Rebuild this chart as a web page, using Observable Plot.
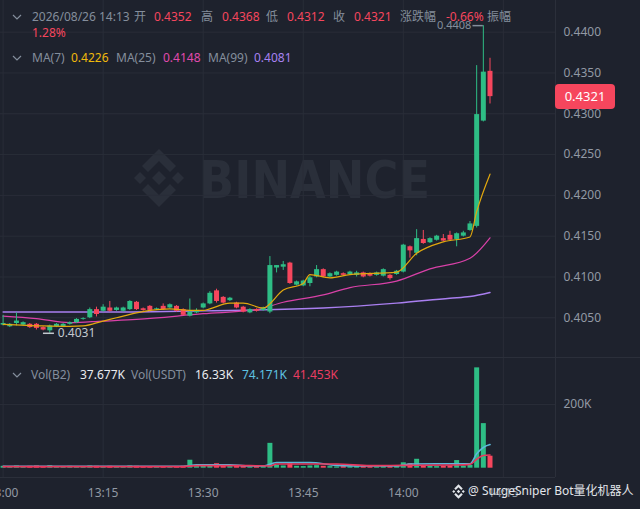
<!DOCTYPE html>
<html><head><meta charset="utf-8">
<script src="https://cdn.jsdelivr.net/npm/d3@7"></script>
<script src="https://cdn.jsdelivr.net/npm/@observablehq/plot@0.6"></script>
<style>
html,body{margin:0;padding:0;background:#1e222d;}
#wrap{position:relative;width:640px;height:509px;overflow:hidden;background:#1e222d;font-family:"Noto Sans","Noto Sans CJK SC",sans-serif;font-size:12px;color:#848e9c;}
.abs{position:absolute;white-space:nowrap;line-height:16px;}
#wrap > svg{display:block}
</style></head><body><div id="wrap"></div>
<script>
// ---------- data (1-minute candles starting 13:00) ----------
const startTime = "13:00";
const open  = [0.4041,0.4039,0.4043,0.4041,0.4042,0.4042,0.4038,0.4034,0.4039,0.4039,0.4042,0.4044,0.4048,0.4050,0.4060,0.4058,0.4062,0.4059,0.4058,0.4060,
               0.4069,0.4061,0.4064,0.4060,0.4064,0.4062,0.4064,0.4060,0.4052,0.4056,0.4062,0.4067,0.4083,0.4075,0.4071,0.4068,0.4063,0.4056,0.4060,0.4059,
               0.4057,0.4111,0.4112,0.4117,0.4090,0.4089,0.4092,0.4100,0.4109,0.4100,0.4102,0.4104,0.4103,0.4102,0.4105,0.4104,0.4102,0.4101,0.4102,0.4103,
               0.4106,0.4137,0.4129,0.4146,0.4142,0.4145,0.4147,0.4151,0.4146,0.4150,0.4157,0.4162,0.4291,0.4352];
const high  = [0.4053,0.4043,0.4056,0.4045,0.4043,0.4043,0.4039,0.4041,0.4043,0.4043,0.4045,0.4049,0.4050,0.4062,0.4063,0.4066,0.4070,0.4063,0.4063,0.4071,
               0.4070,0.4062,0.4065,0.4062,0.4067,0.4067,0.4065,0.4061,0.4073,0.4061,0.4068,0.4082,0.4085,0.4076,0.4075,0.4069,0.4064,0.4061,0.4061,0.4063,
               0.4125,0.4114,0.4119,0.4118,0.4095,0.4096,0.4101,0.4114,0.4110,0.4105,0.4107,0.4105,0.4107,0.4107,0.4106,0.4105,0.4106,0.4110,0.4103,0.4108,
               0.4140,0.4138,0.4158,0.4157,0.4148,0.4151,0.4152,0.4156,0.4154,0.4156,0.4168,0.4359,0.4408,0.4368];
const low   = [0.4040,0.4038,0.4040,0.4040,0.4037,0.4035,0.4034,0.4031,0.4038,0.4038,0.4041,0.4043,0.4047,0.4049,0.4051,0.4057,0.4057,0.4058,0.4057,0.4059,
               0.4059,0.4058,0.4057,0.4059,0.4059,0.4061,0.4057,0.4052,0.4051,0.4055,0.4061,0.4066,0.4068,0.4067,0.4070,0.4061,0.4056,0.4055,0.4057,0.4058,
               0.4055,0.4105,0.4108,0.4091,0.4089,0.4088,0.4088,0.4099,0.4099,0.4099,0.4101,0.4101,0.4102,0.4100,0.4099,0.4100,0.4101,0.4100,0.4096,0.4102,
               0.4105,0.4123,0.4126,0.4140,0.4141,0.4144,0.4143,0.4144,0.4137,0.4149,0.4156,0.4160,0.4290,0.4312];
const close = [0.4043,0.4042,0.4046,0.4044,0.4038,0.4037,0.4035,0.4040,0.4042,0.4042,0.4044,0.4048,0.4049,0.4060,0.4054,0.4063,0.4058,0.4062,0.4062,0.4070,
               0.4060,0.4059,0.4059,0.4061,0.4060,0.4066,0.4058,0.4053,0.4057,0.4059,0.4067,0.4080,0.4070,0.4068,0.4074,0.4062,0.4057,0.4060,0.4058,0.4062,
               0.4114,0.4114,0.4115,0.4092,0.4094,0.4095,0.4099,0.4109,0.4100,0.4104,0.4106,0.4102,0.4106,0.4105,0.4100,0.4101,0.4105,0.4109,0.4098,0.4107,
               0.4139,0.4132,0.4147,0.4141,0.4147,0.4150,0.4144,0.4145,0.4153,0.4154,0.4165,0.4299,0.4351,0.4321];
const volumeK = [6,5,7,4,6,7,5,8,5,4,6,5,4,7,6,5,6,4,5,7,
                 6,4,5,3,5,4,5,6,25,5,6,7,14,6,5,6,7,4,5,6,
                 78,9,7,14,6,5,7,8,6,5,4,5,4,5,6,5,4,6,5,6,
                 17,14,28,7,6,5,6,7,24,6,9,315,140,37.677];
// moving averages: [minute offset, value]
const ma7Pts  = [[0,0.4042],[6,0.4040],[10,0.40395],[12,0.4040],[15,0.4046],[17,0.4050],[20,0.4056],[22,0.4059],[25,0.4061],[28,0.4059],[30,0.4059],[31,0.4061],[34,0.4068],[36,0.4068],[39,0.4062],[42,0.4084],[45,0.4092],[46,0.4103],[49,0.4099],[52,0.4103],[59,0.4106],[62,0.4129],[66,0.4143],[70,0.4149],[71,0.4180],[73,0.4226]];
const ma25Pts = [[0,0.4052],[5,0.4049],[10,0.4044],[15,0.4046],[20,0.4048],[30,0.4055],[38,0.4060],[42,0.4069],[48,0.4078],[52,0.4087],[59,0.4095],[64,0.4110],[70,0.4123],[73,0.4148]];
const ma99Pts = [[0,0.4057],[15,0.4057],[30,0.40585],[48,0.4062],[59,0.4068],[67,0.4074],[70,0.4076],[73,0.4081]];
const volMa5Pts  = [[0,6],[27,6],[29,11],[34,11],[37,7],[39,7],[41,18],[46,18],[50,9],[54,7],[59,7],[61,13],[68,14],[70,14],[71,45],[72,65],[73,74.171]];
const volMa10Pts = [[0,5],[27,5],[29,8],[37,8],[40,7],[41,13],[50,13],[55,8],[60,9],[68,10],[70,12],[71,28],[72,40],[73,41.453]];
const priceTicks = [0.4050,0.4100,0.4150,0.4200,0.4250,0.4300,0.4350,0.4400];
const volTicks = [200];
const timeTickMinutes = [0,15,30,45,60,75];
const timeTickLabels = ["13:00","13:15","13:30","13:45","14:00","14:15"];

// ---------- styling ----------
const AXIS="#9299a4", GRID="#292d38", GREEN="#2ebd85", RED="#f6465d";
const FONT='"Noto Sans","Noto Sans CJK SC",sans-serif';
const xDomain=[-0.39,82.82];

const candles = open.map((o,i)=>({m:i,o,h:high[i],l:low[i],c:close[i],v:volumeK[i]}));
const col = d => d.c>=d.o ? GREEN : RED;
const pts = a => a.map(([m,v])=>({m,v}));
const hiPt = candles.reduce((a,b)=>b.h>a.h?b:a);
const loPt = candles.reduce((a,b)=>b.l<a.l?b:a);
const last = candles[candles.length-1];

const wrap=document.getElementById("wrap");
const LOGO=`<polygon points="0,-7 7,0 0,7 -7,0"/><polygon points="-19,-6 -13,0 -19,6 -25,0"/><polygon points="19,-6 25,0 19,6 13,0"/><polygon points="0,-29 17,-12 11,-6 0,-17 -11,-6 -17,-12"/><polygon points="0,29 17,12 11,6 0,17 -11,6 -17,12"/>`;

// watermark
const wm=document.createElementNS("http://www.w3.org/2000/svg","svg");
wm.setAttribute("width","640");wm.setAttribute("height","358");
wm.setAttribute("style","position:absolute;left:0;top:0");
wm.innerHTML=`<g transform="translate(159,178)" fill="#2a2f3a">${LOGO}</g>
<text x="199" y="198" font-family="DejaVu Sans" font-weight="bold" font-size="52" textLength="231" lengthAdjust="spacingAndGlyphs" fill="#2a2f3a">BINANCE</text>`;
wrap.appendChild(wm);

const mainChart = Plot.plot({
  width:640, height:358, marginLeft:0, marginRight:85, marginTop:0, marginBottom:0,
  style:{background:"transparent", color:AXIS, fontFamily:FONT, fontSize:"12px"},
  x:{type:"linear", domain:xDomain, axis:null},
  y:{domain:[0.40001,0.44388], axis:null},
  color:{type:"identity"},
  marks:[
    Plot.gridX(timeTickMinutes,{stroke:GRID,strokeOpacity:1}),
    Plot.gridY(priceTicks,{stroke:GRID,strokeOpacity:1}),
    Plot.axisY(priceTicks,{anchor:"right",label:null,tickSize:0,tickPadding:8,tickFormat:d=>d.toFixed(4),fill:AXIS,fontSize:12}),
    Plot.line(pts(ma99Pts),{x:"m",y:"v",stroke:"#a97ff0",strokeWidth:1.4,curve:"monotone-x"}),
    Plot.line(pts(ma25Pts),{x:"m",y:"v",stroke:"#d941a8",strokeWidth:1.2,curve:"monotone-x"}),
    Plot.ruleX(candles,{x:"m",y1:"l",y2:"h",stroke:col,strokeWidth:1}),
    Plot.ruleX(candles,{x:"m",y1:"o",y2:"c",stroke:col,strokeWidth:5}),
    Plot.line(pts(ma7Pts),{x:"m",y:"v",stroke:"#e2a80e",strokeWidth:1.2,curve:"monotone-x"}),
    Plot.ruleY([hiPt],{y:"h",x1:d=>d.m-1.55,x2:d=>d.m,stroke:"#848e9c",strokeWidth:1.5}),
    Plot.text([hiPt],{x:d=>d.m-1.8,y:"h",text:d=>d.h.toFixed(4),textAnchor:"end",fill:"#848e9c",fontSize:11}),
    Plot.ruleY([loPt],{y:"l",x1:d=>d.m-0.95,x2:d=>d.m+0.7,stroke:"#c4c8ce",strokeWidth:1.5}),
    Plot.text([loPt],{x:d=>d.m+1.2,y:"l",text:d=>d.l.toFixed(4),textAnchor:"start",fill:"#c4c8ce",fontSize:12})
  ]
});
mainChart.setAttribute("style",(mainChart.getAttribute("style")||"")+";position:absolute;left:0;top:0;");
wrap.appendChild(mainChart);

const volChart = Plot.plot({
  width:640, height:151, marginLeft:0, marginRight:85, marginTop:0, marginBottom:32,
  style:{background:"transparent", color:AXIS, fontFamily:FONT, fontSize:"12px"},
  x:{type:"linear", domain:xDomain, axis:null},
  y:{domain:[-29.2,344.4], axis:null},
  color:{type:"identity"},
  marks:[
    Plot.gridX(timeTickMinutes,{stroke:GRID,strokeOpacity:1}),
    Plot.gridY(volTicks,{stroke:GRID,strokeOpacity:1}),
    Plot.axisY(volTicks,{anchor:"right",label:null,tickSize:0,tickPadding:8,tickFormat:d=>d+"K",fill:AXIS,fontSize:12}),
    Plot.axisX(timeTickMinutes,{anchor:"bottom",label:null,tickSize:0,tickPadding:11,tickFormat:d=>timeTickLabels[timeTickMinutes.indexOf(d)],fill:AXIS,fontSize:12}),
    Plot.ruleX(candles,{x:"m",y1:0,y2:"v",stroke:col,strokeWidth:5}),
    Plot.line(pts(volMa5Pts),{x:"m",y:"v",stroke:"#5bb8d8",strokeWidth:1.6,curve:"monotone-x"}),
    Plot.line(pts(volMa10Pts),{x:"m",y:"v",stroke:"#e8385f",strokeWidth:1.6,curve:"monotone-x"})
  ]
});
volChart.setAttribute("style",(volChart.getAttribute("style")||"")+";position:absolute;left:0;top:358px;");
wrap.appendChild(volChart);

function add(html){const d=document.createElement("div");d.innerHTML=html;while(d.firstChild)wrap.appendChild(d.firstChild);}
const chev = (x,y)=>`<svg class="abs" style="left:${x}px;top:${y}px" width="10" height="7"><polyline points="1,1 5,5 9,1" fill="none" stroke="#848e9c" stroke-width="1.2"/></svg>`;
const t = (x,y,txt,c)=>`<div class="abs" style="left:${x}px;top:${y-8}px;color:${c}">${txt}</div>`;
// separators
add(`<div class="abs" style="left:0;top:357px;width:640px;height:1px;background:#2b2f3a"></div>`);
add(`<div class="abs" style="left:0;top:477px;width:555px;height:1px;background:#2b2f3a"></div>`);
add(`<div class="abs" style="left:555px;top:0;width:1px;height:477px;background:#2b2f3a"></div>`);
// header
const G="#848e9c", R="#f6465d";
add(chev(12,14)+t(32,17,"2026/08/26 14:13",G)+t(134,17,"开",G)+t(154,17,open[73].toFixed(4),R)+t(201,17,"高",G)+t(222,17,high[73].toFixed(4),R)
  +t(266,17,"低",G)+t(287,17,low[73].toFixed(4),R)+t(333,17,"收",G)+t(354,17,close[73].toFixed(4),R)+t(400,17,"涨跌幅",G)+t(446,17,"-0.66%",R)+t(487,17,"振幅",G)
  +t(32,33,"1.28%",R));
add(chev(12,55)+t(32,58,"MA(7)",G)+t(71,58,"0.4226","#f0b90b")+t(116,58,"MA(25)",G)+t(163,58,"0.4148","#e04aad")+t(208,58,"MA(99)",G)+t(254,58,"0.4081","#a882f2"));
add(chev(12,372)+t(31,375,"Vol(B2)",G)+t(80,375,"37.677K","#eaecef")+t(131,375,"Vol(USDT)",G)+t(195,375,"16.33K","#eaecef")+t(242,375,"74.171K","#5ec3e2")+t(293,375,"41.453K","#ea3d62"));
// price tag
const yLast = mainChart.scale("y").apply(last.c);
add(`<div class="abs" style="left:555px;top:${yLast-12.5}px;width:60px;height:25px;line-height:25px;background:#f6465d;border-radius:4px;color:#fff;font-size:13px;text-align:center">${last.c.toFixed(4)}</div>`);
// bottom watermark
add(`<svg class="abs" style="left:451px;top:484px" width="15" height="15"><g transform="translate(7.5,7.5) scale(0.25)" fill="#e2e5ea">${LOGO}</g></svg>`);
add(`<div class="abs" style="left:468px;top:483px;color:#e2e5ea;font-size:12px;line-height:16px">@ SurgeSniper Bot量化机器人</div>`);
</script></body></html>
